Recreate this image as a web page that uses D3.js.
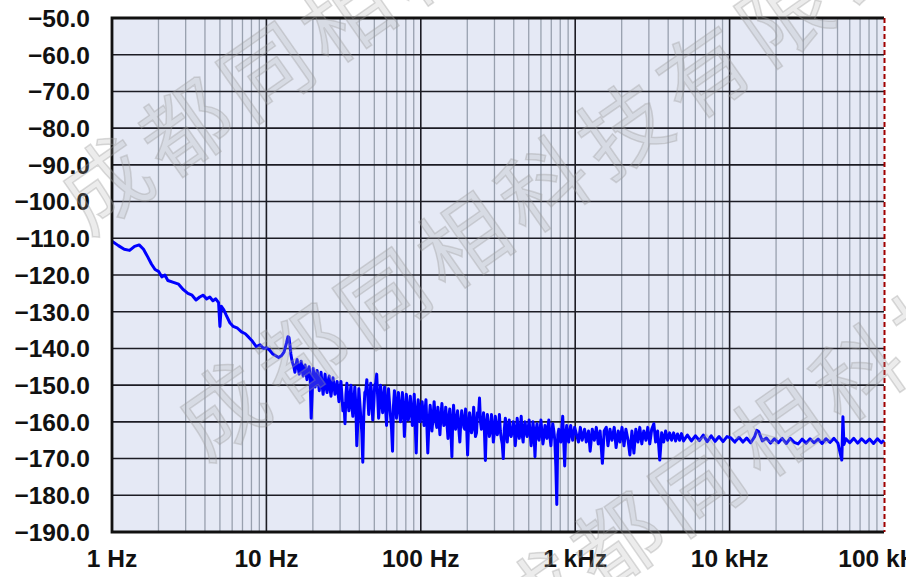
<!DOCTYPE html>
<html>
<head>
<meta charset="utf-8">
<script src="https://cdn.jsdelivr.net/npm/d3@7"></script>
<style>
  body { margin: 0; background: #fff; }
  svg { display: block; }
</style>
</head>
<body>
<svg id="chart" width="906" height="577"></svg>
<script>
// ── Data ───────────────────────────────────────────────────
const yTicks = [-50, -60, -70, -80, -90, -100, -110, -120, -130, -140, -150, -160, -170, -180, -190];
const xTickValues = [1, 10, 100, 1000, 10000, 100000];
const xTickLabels = ['1 Hz', '10 Hz', '100 Hz', '1 kHz', '10 kHz', '100 kHz'];

// phase noise trace (Hz, dBc/Hz)
const freqHz = [
  1, 1.1, 1.2, 1.3, 1.4, 1.5, 1.6, 1.7, 1.8, 1.9, 2.0, 2.1, 2.2, 2.3, 2.5, 2.7, 2.9, 3.1, 3.3, 3.5,
  3.7, 3.9, 4.1, 4.3, 4.5, 4.7, 4.9, 5.0, 5.1, 5.3, 5.5, 5.8, 6.1, 6.5, 6.9, 7.3, 7.7, 8.1, 8.6, 9.1,
  9.6, 10, 10.5, 11, 11.5, 12, 12.5, 13, 13.5, 13.8,
  14, 14.4, 14.8, 15.3, 15.8, 16.3, 16.8, 17.3, 17.8, 18.3, 18.9, 19.5, 20.1, 20.7, 21.3, 22, 22.6, 23.3,
  24, 24.7, 25.5, 26.2, 27, 27.8, 28.7, 29.5, 30.4, 31.3, 32.3, 33.2, 34.2, 35.3, 36.3, 37.4, 38.5, 39.7,
  40.9, 42.1, 43.4, 44.7, 46, 47.4, 48.8, 50.3, 51.8, 53.3, 54.9, 56.6, 58.3, 60, 61.8, 63.7, 65.6, 67.5,
  69.6, 71.6, 73.8, 76, 78.3, 80.6, 83, 85.5, 88.1, 90.7, 93.4, 96.2, 99.1,
  102, 105, 108, 111, 115, 118, 122, 125, 129, 133, 137, 141, 145, 150, 154, 159, 163, 168, 173, 179,
  184, 190, 195, 201, 207, 213, 220, 226, 233, 240, 247, 255, 262, 270, 278, 287, 295, 304, 313, 323,
  332, 342, 353, 363, 374, 385, 397, 409, 421, 434, 447, 460, 474, 488, 503, 518, 533, 549, 566, 583,
  600, 618, 637, 656, 675, 696, 716, 738, 760, 783, 806, 830, 855, 881, 907, 935, 963, 992,
  1020, 1050, 1080, 1110, 1150, 1180, 1220, 1250, 1290, 1330, 1370, 1410, 1450, 1500, 1540, 1590, 1630, 1680,
  1730, 1790, 1840, 1900, 1950, 2010, 2070, 2130, 2200, 2260, 2330, 2400, 2470, 2550, 2620, 2700, 2780, 2870,
  2950, 3040, 3130, 3230, 3320, 3420, 3530, 3630, 3740, 3850, 3970, 4090, 4210, 4340, 4470, 4600, 4740, 4880,
  5030, 5330, 5660, 6000, 6370, 6750, 7160, 7600, 8060, 8550, 9070, 9620,
  10200, 10800, 11500, 12200, 12900, 13700, 14500, 15000, 15400, 16300, 17300, 18400, 19500, 20700, 21900,
  23300, 24700, 26200, 27800, 29500, 31300, 33200, 35200, 37400, 39700, 42100, 44700, 47400, 50300, 53300,
  54200, 55000, 56600, 60000, 63700, 67500, 71600, 76000, 80600, 85500, 90700, 96200, 100000
];
const noiseDbc = [
  -110.8, -112, -113, -113.3, -112.2, -111.8, -113, -115, -117, -118.5, -119, -120.5, -120, -121.5, -122, -122.5, -124, -125, -125.5, -126.8,
  -126, -125.5, -126.5, -126, -127, -126.5, -127.5, -134, -128.5, -129.5, -131, -133, -134, -134.5, -135.5, -136, -137, -138, -139.5, -139,
  -140, -139.8, -140.5, -141.5, -142, -142.5, -142, -141, -138.5, -136.8,
  -137, -141.5, -144, -146.5, -143, -147, -143.5, -147.5, -144.5, -148.5, -145, -159, -145.5, -150.5, -146, -151.5, -146.5, -152.5,
  -147, -152, -147.5, -153, -148, -152.5, -149, -154.5, -149, -157, -160.5, -149.5, -157, -150, -158.5, -150.5, -166.5, -151,
  -159, -171, -152, -148.5, -158, -149.5, -159.5, -150, -147, -159, -150, -157.5, -150.5, -161, -151, -158.5, -168, -151.5,
  -159, -152, -160, -152, -164, -152.5, -159.5, -153, -161, -152.5, -168.5, -154, -160,
  -154.5, -161, -154, -168.5, -155.5, -162.5, -154.5, -160, -156, -163.5, -155, -161, -156, -164.5, -156.5, -169.5, -155.5, -162, -157, -165.5,
  -157, -161.5, -156.5, -169, -157.5, -163, -156, -164, -157.5, -153.5, -162, -157.5, -170.5, -158, -164, -158, -165.5, -158.5, -163.5, -158,
  -164.5, -170, -159, -165.5, -159.5, -164, -160, -166.5, -159, -164.5, -158.5, -165.5, -160, -164, -159.5, -166.5, -160, -169.5, -160.5, -165,
  -159.5, -166, -161, -164.5, -159.5, -166.5, -160.5, -165, -182.5, -162, -165.5, -158.5, -172, -161, -165.5, -161, -165, -161.5,
  -163.5, -165.5, -161.5, -165, -162, -165.5, -162.5, -168, -162, -165, -161.5, -166, -162.5, -171.3, -162.5, -161.5, -166.5, -162,
  -165, -161.5, -167, -162.5, -165.5, -161.5, -166.5, -162, -165, -169, -162.5, -168.5, -162, -165.5, -161.5, -166, -162.5, -165,
  -161.5, -166, -162, -160.5, -165.5, -162.5, -170.4, -163, -165.5, -162.5, -165, -163, -165, -163, -165.2, -163.3, -165, -163.2,
  -165.2, -163.6, -165.2, -163.8, -165.1, -163.6, -165.4, -163.8, -165.3, -164, -165.4, -164,
  -164.4, -165.5, -164.2, -165.5, -164.4, -165.7, -164.1, -162.3, -162.6, -165.2, -164.4, -165.8, -164.6, -165.7, -164.5,
  -165.9, -164.5, -165.6, -166, -164.7, -165.8, -164.6, -165.7, -164.7, -165.9, -164.6, -165.6, -164.5, -165.8, -170.4,
  -158.6, -166.2, -164.6, -165.7, -164.5, -165.8, -164.6, -165.7, -164.7, -165.9, -164.6, -165.7, -165
];

// extra FFT bins inside the dense noise band, 14 Hz .. 1 kHz
const bandFreqHz = [
  14.2, 14.6, 15.05, 15.55, 16.05, 16.55, 17.05, 17.55, 18.05, 18.6,
  19.2, 19.8, 20.4, 21, 21.65, 22.3, 22.95, 23.65, 24.35, 25.1,
  25.85, 26.6, 27.4, 28.25, 29.1, 29.95, 30.85, 31.8, 32.75, 33.7,
  34.75, 35.8, 36.85, 37.95, 39.1, 40.3, 41.5, 42.75, 44.05, 45.35,
  46.7, 48.1, 49.55, 51.05, 52.55, 54.1, 55.75, 57.45, 59.15, 60.9,
  62.75, 64.65, 66.55, 68.55, 70.6, 72.7, 74.9, 77.15, 79.45, 81.8,
  84.25, 86.8, 89.4, 92.05, 94.8, 97.65,
  103.5, 106.5, 109.5, 113, 116.5, 120, 123.5, 127, 131, 135,
  139, 143, 147.5, 152, 156.5, 161, 165.5, 170.5, 176, 181.5,
  187, 192.5, 198, 204, 210, 216.5, 223, 229.5, 236.5, 243.5,
  251, 258.5, 266, 274, 282.5, 291, 299.5, 308.5, 318, 327.5,
  337, 347.5, 358, 368.5, 379.5, 391, 403, 415, 427.5, 440.5,
  453.5, 467, 481, 495.5, 510.5, 525.5, 541, 557.5, 574.5, 591.5,
  609, 627.5, 646.5, 665.5, 685.5, 706, 727, 749, 771.5, 794.5,
  818, 842.5, 868, 894, 921, 949, 977.5
];
const bandDbc = [
  -139, -143, -145, -144.5, -145, -145.5, -146, -145, -146.5, -146,
  -147.5, -152, -148, -147.5, -149, -148.5, -150, -149.5, -150.5, -149,
  -151, -150.5, -150, -151.5, -152, -151, -153, -155, -152.5, -154,
  -153, -156, -154, -155.5, -160, -155, -163, -157.5, -151.5, -153,
  -155, -152.5, -155.5, -149.5, -153, -155, -154, -153, -156.5, -154,
  -155, -162, -155.5, -154.5, -156, -155.5, -157.5, -156, -158.5, -156,
  -157.5, -156.5, -158, -161, -157, -157.5,
  -158, -157, -161, -160, -158.5, -159, -158, -161.5, -159.5, -158.5,
  -159, -160.5, -160, -159, -162, -159.5, -160.5, -159, -161.5, -160,
  -159, -162, -161, -160.5, -159.5, -161.5, -160, -163, -158, -160,
  -161, -163, -160.5, -161, -162.5, -161, -163, -161.5, -162, -162.5,
  -166, -162, -163, -161.5, -163.5, -162.5, -162, -163.5, -162, -162.5,
  -163.5, -161.5, -163, -162, -163, -164.5, -163, -162.5, -164, -162.5,
  -163, -164, -162.5, -161.5, -164, -163, -162.5, -172, -163.5, -164,
  -162, -165, -163.5, -164, -162.5, -163.5, -163
];

const watermarkText = '成都同相科技有限公司';
const watermarkRows = [[88, 236], [205, 462], [520, 650]];

// ── Layout ─────────────────────────────────────────────────
const margin = { left: 112, right: 884, top: 18, bottom: 532 };

const svg = d3.select('#chart');

const x = d3.scaleLog()
  .domain([1, 100000])
  .range([margin.left, margin.right]);

const y = d3.scaleLinear()
  .domain([-190, -50])
  .range([margin.bottom, margin.top]);

// plot background
svg.append('rect')
  .attr('x', margin.left)
  .attr('y', margin.top)
  .attr('width', margin.right - margin.left)
  .attr('height', margin.bottom - margin.top)
  .attr('fill', '#e5e9f5');

// minor vertical grid (2..9 of each decade)
const minorTicks = x.ticks().filter(t => !xTickValues.includes(t));
svg.append('g')
  .selectAll('line')
  .data(minorTicks)
  .join('line')
  .attr('x1', d => x(d))
  .attr('x2', d => x(d))
  .attr('y1', margin.top)
  .attr('y2', margin.bottom)
  .attr('stroke', '#98a0ae')
  .attr('stroke-width', 1.3);

// major vertical grid
svg.append('g')
  .selectAll('line')
  .data(xTickValues.slice(1, -1))
  .join('line')
  .attr('x1', d => x(d))
  .attr('x2', d => x(d))
  .attr('y1', margin.top)
  .attr('y2', margin.bottom)
  .attr('stroke', '#1c1c24')
  .attr('stroke-width', 1.6);

// horizontal grid
svg.append('g')
  .selectAll('line')
  .data(yTicks.slice(1, -1))
  .join('line')
  .attr('x1', margin.left)
  .attr('x2', margin.right)
  .attr('y1', d => y(d))
  .attr('y2', d => y(d))
  .attr('stroke', '#1c1c24')
  .attr('stroke-width', 1.6);

// trace: merge the main bins with the extra band bins, in frequency order
const points = freqHz.map((f, i) => [f, noiseDbc[i]])
  .concat(bandFreqHz.map((f, i) => [f, bandDbc[i]]))
  .sort((a, b) => a[0] - b[0]);

const line = d3.line()
  .x(d => x(d[0]))
  .y(d => y(d[1]));

svg.append('path')
  .datum(points)
  .attr('d', line)
  .attr('fill', 'none')
  .attr('stroke', '#0000ff')
  .attr('stroke-width', 3)
  .attr('stroke-linejoin', 'round');

// frame: black on three sides, red dashed on the right
svg.append('path')
  .attr('d', `M${margin.right},${margin.top}H${margin.left}V${margin.bottom}H${margin.right}`)
  .attr('fill', 'none')
  .attr('stroke', '#111')
  .attr('stroke-width', 2.8);

svg.append('line')
  .attr('x1', margin.right + 0.5)
  .attr('x2', margin.right + 0.5)
  .attr('y1', margin.top)
  .attr('y2', margin.bottom)
  .attr('stroke', '#a00000')
  .attr('stroke-width', 2)
  .attr('stroke-dasharray', '5,3');

// ── Axis labels ────────────────────────────────────────────
const fmt = d3.format('.1f');
svg.append('g')
  .selectAll('text')
  .data(yTicks)
  .join('text')
  .attr('x', 90)
  .attr('y', d => y(d))
  .attr('dy', '0.36em')
  .attr('text-anchor', 'end')
  .attr('font-family', 'Liberation Sans, Arial, sans-serif')
  .attr('font-weight', 'bold')
  .attr('font-size', '24.5px')
  .attr('fill', '#111')
  .text(d => fmt(d));

svg.append('g')
  .selectAll('text')
  .data(xTickValues)
  .join('text')
  .attr('x', d => x(d))
  .attr('y', 567)
  .attr('text-anchor', 'middle')
  .attr('font-family', 'Liberation Sans, Arial, sans-serif')
  .attr('font-weight', 'bold')
  .attr('font-size', '24.5px')
  .attr('fill', '#111')
  .text((d, i) => xTickLabels[i]);

// ── Watermark ──────────────────────────────────────────────
const wm = svg.append('g').attr('pointer-events', 'none');
watermarkRows.forEach(([wx, wy]) => {
  wm.append('text')
    .attr('transform', `translate(${wx},${wy}) rotate(-35)`)
    .attr('font-family', 'Noto Sans CJK SC, sans-serif')
    .attr('font-size', '88px')
    .attr('letter-spacing', '10px')
    .attr('fill', '#a8a8a8')
    .attr('fill-opacity', 0.22)
    .attr('stroke', '#9a9a9a')
    .attr('stroke-opacity', 0.35)
    .attr('stroke-width', 1.5)
    .text(watermarkText);
});
</script>
</body>
</html>
